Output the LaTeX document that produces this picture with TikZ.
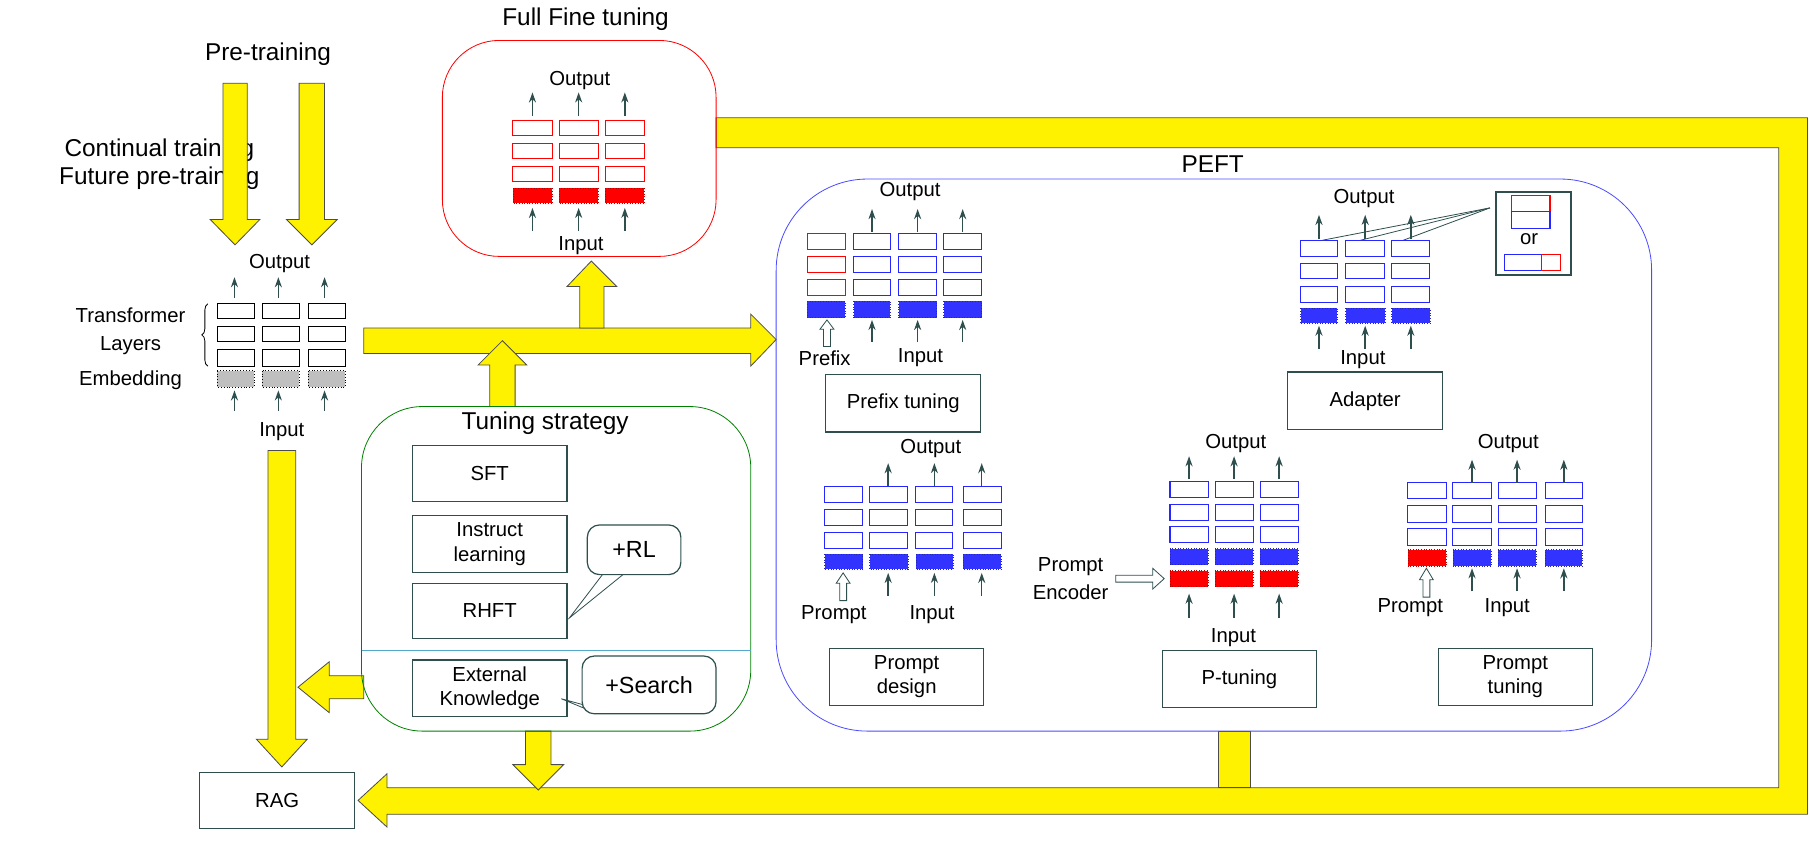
\documentclass[tikz,border=0pt]{standalone}
\usepackage{fontspec}
\setmainfont{Liberation Sans}
\usetikzlibrary{arrows.meta,positioning,decorations.pathreplacing}
\definecolor{darkline}{HTML}{2F4F4F}
\definecolor{eblue}{HTML}{3333FF}
\tikzset{
  ylw/.style={fill=yellow, draw=gray!60!black, line width=0.4pt},
  blay/.style={draw=blue!85, fill=white, line width=0.5pt},
  rlay/.style={draw=red, fill=white, line width=0.5pt},
  klay/.style={draw=black, fill=white, line width=0.5pt},
  bemb/.style={draw=eblue!70!black, densely dotted, fill=eblue, line width=0.3pt},
  remb/.style={draw=red!70!black, densely dotted, fill=red, line width=0.3pt},
  gemb/.style={draw=black, densely dotted, fill=gray!50, line width=0.4pt},
  sarr/.style={-{Stealth[length=5pt,width=3.5pt]}, darkline, line width=0.7pt},
  harr/.style={draw=darkline, fill=white, line width=0.4pt},
  lbl/.style={font=\fontsize{10}{11}\selectfont, inner sep=0pt},
  ttl/.style={font=\fontsize{12}{14}\selectfont, inner sep=0pt},
  mbox/.style={draw=darkline, fill=white, line width=0.6pt, font=\fontsize{10}{12}\selectfont, align=center, inner sep=0pt},
}
\begin{document}
\begin{tikzpicture}[x=0.02cm, y=-0.02cm]
\useasboundingbox (0,0) rectangle (1568,741);

% feedback loop to RAG
\draw[ylw] (620,102) -- (1565,102) -- (1565,705) -- (335,705) -- (335,716) -- (310,693)
  -- (335,670) -- (335,682) -- (1540,682) -- (1540,128) -- (620,128) -- cycle;
\draw[ylw] (1055,633) rectangle (1083,682);

% pre-training arrows
\node[ttl] (pretr) at (232,47) {Pre-training};
\node[ttl, align=center] (contr) at (138,142) {Continual training\\Future pre-training};
\foreach \xa/\xb in {193/214, 259/281}
  \draw[ylw] (\xa,72) -- (\xb,72) -- (\xb,190) -- (\xb+11,190) -- (\xa/2+\xb/2,212)
    -- (\xa-11,190) -- (\xa,190) -- cycle;

% base model
\node[lbl] (bout) at (242,228) {Output};
\foreach \x in {203,241,281} {
  \draw[sarr] (\x,258) -- (\x,240);
  \draw[sarr] (\x,356) -- (\x,338);
}
\foreach \xa/\xb in {188/220, 227/259, 267/299} {
  \foreach \ya/\yb in {263/276, 283/296, 303/317}
    \draw[klay] (\xa,\ya) rectangle (\xb,\yb);
  \draw[gemb] (\xa,321) rectangle (\xb,335);
}
\draw[decorate, decoration={brace, amplitude=3pt}] (180,317) -- (180,263);
\node[lbl, align=center] (tlay) at (113,287) {Transformer\\[3pt]Layers};
\node[lbl] (bemb) at (113,329) {Embedding};
\node[lbl] (binp) at (244,374) {Input};

% main flow arrows
\draw[ylw] (232,390) -- (256,390) -- (256,640) -- (266,640) -- (244,664) -- (222,640)
  -- (232,640) -- cycle;
\draw[ylw] (315,284) -- (650,284) -- (650,272) -- (672,294) -- (650,317) -- (650,306)
  -- (315,306) -- cycle;
\draw[ylw] (502,284) -- (502,248) -- (491,248) -- (512,226) -- (534,248) -- (523,248)
  -- (523,284) -- cycle;
\draw[ylw] (424,352) -- (424,316) -- (414,316) -- (435,295) -- (456,316) -- (446,316)
  -- (446,352) -- cycle;
\draw[ylw] (315,585) -- (285,585) -- (285,573) -- (258,595) -- (285,617) -- (285,605)
  -- (315,605) -- cycle;
\draw[ylw] (455,633) -- (477,633) -- (477,662) -- (488,662) -- (466,684) -- (444,662)
  -- (455,662) -- cycle;
\node[mbox, minimum width=134*0.02cm, minimum height=49*0.02cm] (rag) at (240,693) {RAG};

% full fine tuning
\draw[red, rounded corners=28] (383,35) rectangle (620,222);
\node[ttl] (fftl) at (507,17) {Full Fine tuning};
\node[lbl] (fout) at (502,70) {Output};
\node[lbl] (finp) at (503,213) {Input};
\foreach \xa/\xb in {444/478, 484/518, 524/558} {
  \foreach \ya/\yb in {104/117, 124/137, 144/157}
    \draw[rlay] (\xa,\ya) rectangle (\xb,\yb);
  \draw[remb] (\xa,163) rectangle (\xb,176);
  \draw[sarr] (\xa/2+\xb/2,100) -- (\xa/2+\xb/2,80);
  \draw[sarr] (\xa/2+\xb/2,200) -- (\xa/2+\xb/2,180);
}

% tuning strategy
\draw[green!50!black, rounded corners=30] (313,352) rectangle (650,633);
\draw[cyan!60!gray] (313,563) -- (650,563);
\node[ttl] (tstr) at (472,366) {Tuning strategy};
\node[mbox, minimum width=134*0.02cm, minimum height=48*0.02cm] (sft) at (424,410) {SFT};
\node[mbox, minimum width=134*0.02cm, minimum height=49*0.02cm] (inst) at (424,471) {Instruct\\learning};
\node[mbox, minimum width=134*0.02cm, minimum height=48*0.02cm] (rhft) at (424,529) {RHFT};
\node[mbox, minimum width=134*0.02cm, minimum height=49*0.02cm] (extk) at (424,596) {External\\Knowledge};
\coordinate (rltip) at (493,535);
\coordinate (srtip) at (486,605);
\draw[darkline] (522,497) -- (rltip) -- (540,497);
\node[mbox, rounded corners=6, minimum width=81*0.02cm, minimum height=43*0.02cm,
  font=\fontsize{11.5}{13}\selectfont] (rl) at (549,476) {+RL};
\draw[darkline] (515,617) -- (srtip) -- (530,617);
\node[mbox, rounded corners=6, minimum width=116*0.02cm, minimum height=50*0.02cm,
  font=\fontsize{11.5}{13}\selectfont] (srch) at (562,593) {+Search};

% PEFT
\draw[blue!70, rounded corners=45] (672,155) rectangle (1430,633);
\node[ttl] (peft) at (1050,142) {PEFT};

% prefix tuning
\node[lbl] (pxout) at (788,166) {Output};
\foreach \xa/\xb in {739/771, 778/811, 817/850} {
  \foreach \ya/\yb in {202/216, 222/236, 242/256}
    \draw[blay] (\xa,\ya) rectangle (\xb,\yb);
  \draw[sarr] (\xa/2+\xb/2,201) -- (\xa/2+\xb/2,181);
  \draw[sarr] (\xa/2+\xb/2,296) -- (\xa/2+\xb/2,277);
}
\foreach \ya/\yb in {202/216, 222/236, 242/256}
  \draw[rlay] (699,\ya) rectangle (732,\yb);
\foreach \xa/\xb in {699/732, 739/771, 778/811, 817/850}
  \draw[bemb] (\xa,261) rectangle (\xb,275);
\draw[harr] (713,300) -- (713,285) -- (710,285) -- (716,277) -- (722,285) -- (719,285)
  -- (719,300) -- cycle;
\node[lbl] (pxpre) at (714,310) {Prefix};
\node[lbl] (pxinp) at (797,310) {Input};
\node[mbox, minimum width=134*0.02cm, minimum height=50*0.02cm] (pxtun) at (782,349) {Prefix tuning};

% adapter
\node[lbl] (adout) at (1181,172) {Output};
\coordinate (adj) at (1290,180);
\foreach \xa/\xb in {1126/1158, 1165/1199, 1205/1238} {
  \foreach \ya/\yb in {208/222, 228/241, 248/262}
    \draw[blay] (\xa,\ya) rectangle (\xb,\yb);
  \draw[bemb] (\xa,267) rectangle (\xb,280);
  \draw[sarr] (\xa/2+\xb/2,207) -- (\xa/2+\xb/2,186);
  \draw[sarr] (\xa/2+\xb/2,302) -- (\xa/2+\xb/2,282);
}
\foreach \x in {1145,1178,1215}
  \draw[darkline] (\x,208) -- (adj);
\node[lbl] (adinp) at (1180,311) {Input};
\node[mbox, minimum width=134*0.02cm, minimum height=50*0.02cm] (adapt) at (1182,347) {Adapter};
\draw[darkline, line width=0.8pt] (1295,166) rectangle (1360,238);
\draw[rlay] (1309,169) rectangle (1342,183);
\draw[blay] (1309,183) rectangle (1342,198);
\node[lbl] (ador) at (1324,207) {or};
\draw[blay] (1303,220) rectangle (1351,234);
\draw[rlay] (1335,220) rectangle (1351,234);

% prompt design
\node[lbl] (pdout) at (806,388) {Output};
\foreach \xa/\xb in {714/747, 753/786, 793/825, 834/867} {
  \foreach \ya/\yb in {421/435, 441/455, 461/475}
    \draw[blay] (\xa,\ya) rectangle (\xb,\yb);
  \draw[bemb] (\xa,480) rectangle (\xb,493);
}
\foreach \x in {769,809,850} {
  \draw[sarr] (\x,421) -- (\x,401);
  \draw[sarr] (\x,516) -- (\x,496);
}
\draw[harr] (727,520) -- (727,505) -- (724,505) -- (730,496) -- (736,505) -- (733,505)
  -- (733,520) -- cycle;
\node[lbl] (pdpmt) at (722,532) {Prompt};
\node[lbl] (pdinp) at (807,532) {Input};
\node[mbox, minimum width=133*0.02cm, minimum height=49*0.02cm] (pdes) at (785,586) {Prompt\\design};

% p-tuning
\node[lbl] (ptout) at (1070,384) {Output};
\foreach \xa/\xb in {1013/1046, 1052/1085, 1091/1124} {
  \foreach \ya/\yb in {417/431, 437/451, 456/470}
    \draw[blay] (\xa,\ya) rectangle (\xb,\yb);
  \draw[bemb] (\xa,475) rectangle (\xb,489);
  \draw[remb] (\xa,494) rectangle (\xb,508);
  \draw[sarr] (\xa/2+\xb/2,415) -- (\xa/2+\xb/2,395);
  \draw[sarr] (\xa/2+\xb/2,535) -- (\xa/2+\xb/2,514);
}
\node[lbl, align=center] (penc) at (927,501) {Prompt\\[3pt]Encoder};
\draw[harr] (966,498) -- (998,498) -- (998,492) -- (1008,501) -- (998,510) -- (998,504)
  -- (966,504) -- cycle;
\node[lbl] (ptinp) at (1068,552) {Input};
\node[mbox, minimum width=133*0.02cm, minimum height=49*0.02cm] (ptun) at (1073,588) {P-tuning};

% prompt tuning
\node[lbl] (pmout) at (1306,384) {Output};
\foreach \xa/\xb in {1219/1252, 1258/1291, 1297/1330, 1338/1370}
  \foreach \ya/\yb in {418/432, 438/452, 458/472}
    \draw[blay] (\xa,\ya) rectangle (\xb,\yb);
\draw[remb] (1219,476) rectangle (1252,490);
\foreach \xa/\xb in {1258/1291, 1297/1330, 1338/1370} {
  \draw[bemb] (\xa,476) rectangle (\xb,490);
  \draw[sarr] (\xa/2+\xb/2,418) -- (\xa/2+\xb/2,398);
  \draw[sarr] (\xa/2+\xb/2,512) -- (\xa/2+\xb/2,492);
}
\draw[harr] (1232,517) -- (1232,502) -- (1229,502) -- (1235,492) -- (1241,502) -- (1238,502)
  -- (1238,517) -- cycle;
\node[lbl] (pmpmt) at (1221,526) {Prompt};
\node[lbl] (pminp) at (1305,526) {Input};
\node[mbox, minimum width=133*0.02cm, minimum height=49*0.02cm] (pmtun) at (1312,586) {Prompt\\tuning};
\end{tikzpicture}
\end{document}
